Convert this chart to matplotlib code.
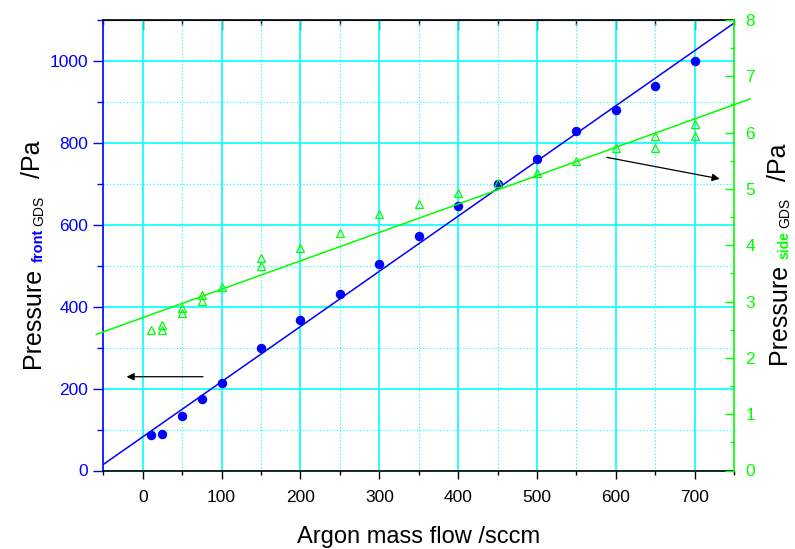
import numpy as np
import matplotlib
matplotlib.use('Agg')
import matplotlib.pyplot as plt
from matplotlib.ticker import MultipleLocator

plt.rcParams['font.family'] = ['Liberation Sans', 'DejaVu Sans']

# 氩气流量 sccm
flow = [10, 25, 50, 75, 100, 150, 200, 250, 300, 350, 400, 450, 500, 550, 600, 650, 700]
# 正面 GDS 压力 Pa
p_front = [86, 90, 132, 174, 213, 298, 367, 432, 503, 572, 645, 699, 760, 829, 880, 939, 1000]
# 侧面 GDS 压力 Pa (有重复测量)
flow_side = [10, 25, 25, 50, 50, 75, 75, 100, 150, 150, 200, 250, 300, 350, 400,
             450, 500, 550, 600, 650, 650, 700, 700]
p_side = [2.49, 2.58, 2.49, 2.89, 2.79, 3.12, 3.01, 3.25, 3.78, 3.63, 3.95, 4.22, 4.56,
          4.73, 4.92, 5.10, 5.29, 5.50, 5.72, 5.94, 5.72, 6.16, 5.94]

BLUE = '#0000ff'
GREEN = '#00ff00'
CYAN = '#00ffff'

W, H = 795, 549
fig = plt.figure(figsize=(W / 100, H / 100), dpi=100)
ax = fig.add_axes([103.3 / W, (H - 470.5) / H, (734.2 - 103.3) / W, (470.5 - 20) / H])
ax2 = ax.twinx()

ax.set_xlim(-50, 750)
ax.set_ylim(0, 1100)
ax2.set_ylim(0, 8)

ax.xaxis.set_major_locator(MultipleLocator(100))
ax.xaxis.set_minor_locator(MultipleLocator(50))
ax.yaxis.set_major_locator(MultipleLocator(200))
ax.yaxis.set_minor_locator(MultipleLocator(100))
ax2.yaxis.set_major_locator(MultipleLocator(1))
ax2.yaxis.set_minor_locator(MultipleLocator(0.5))

# 网格
ax.set_axisbelow(True)
ax.grid(which='major', color=CYAN, lw=1.2, ls='-')
ax.grid(which='minor', color=CYAN, lw=0.8, ls=(0, (1, 2)))

# 刻度
ax.tick_params(axis='x', which='major', direction='out', length=6, width=1, labelsize=12.5, pad=8)
ax.tick_params(axis='x', which='minor', direction='out', length=3, width=1)
ax.tick_params(axis='y', which='major', direction='out', length=7, width=1, color=BLUE,
               labelcolor=BLUE, labelsize=12.5, pad=4)
ax.tick_params(axis='y', which='minor', direction='out', length=4.5, width=1, color=BLUE)
ax2.tick_params(axis='y', which='major', direction='in', length=6.5, width=1, color=GREEN,
                labelcolor=GREEN, labelsize=12.5, pad=8)
ax2.tick_params(axis='y', which='minor', direction='in', length=3, width=1, color=GREEN)

top = ax.secondary_xaxis('top')
top.xaxis.set_major_locator(MultipleLocator(100))
top.xaxis.set_minor_locator(MultipleLocator(50))
top.tick_params(which='major', direction='in', length=7, width=1, labeltop=False)
top.tick_params(which='minor', direction='in', length=3.5, width=1)

ax.spines['left'].set_color(BLUE)
ax.spines['right'].set_visible(False)
for s in ['left', 'top', 'bottom']:
    ax2.spines[s].set_visible(False)
ax2.spines['right'].set_color(GREEN)
for sp in list(ax.spines.values()) + list(ax2.spines.values()):
    sp.set_linewidth(1.2)

# 数据点
ax.plot(flow, p_front, 'o', color=BLUE, ms=5.8, zorder=5)
ax2.plot(flow_side, p_side, '^', mfc='none', mec=GREEN, ms=6, mew=0.9, zorder=5)

# 线性拟合
k1, b1 = np.polyfit(flow, p_front, 1)
xf = np.array([-50, 750])
ax.plot(xf, k1 * xf + b1, color=BLUE, lw=1.1, zorder=4)
k2, b2 = np.polyfit(flow_side, p_side, 1)
xs = np.array([-59, 770])
ax2.plot(xs, k2 * xs + b2, color=GREEN, lw=1.1, clip_on=False, zorder=4)

# 箭头指示坐标轴
ax.annotate('', xy=(-24, 229), xytext=(80, 229),
            arrowprops=dict(arrowstyle='-|>', color='black', lw=0.9, mutation_scale=11))
ax2.annotate('', xy=(735, 5.17), xytext=(585, 5.57),
             arrowprops=dict(arrowstyle='-|>', color='black', lw=0.9, mutation_scale=11))

fig.text(419 / W, (H - 543) / H, 'Argon mass flow /sccm', fontsize=17,
         ha='center', va='baseline')


def stacked_label(x, y, parts):
    # 竖排拼接带下标的轴标题, x/y 为像素坐标
    r = fig.canvas.get_renderer()
    for txt, dx, gap, kw in parts:
        y += gap
        t = fig.text((x + dx) / W, y / H, txt, rotation=90, rotation_mode='anchor',
                     ha='left', va='baseline', **kw)
        y += t.get_window_extent(r).height


stacked_label(40, H - 368, [
    ('Pressure', 0, 0, dict(fontsize=18)),
    ('front', 3, 6, dict(fontsize=10.5, fontweight='bold', color=BLUE)),
    ('GDS', 3, 3, dict(fontsize=10)),
    ('/Pa', 0, 18, dict(fontsize=18)),
])
stacked_label(786, H - 364, [
    ('Pressure', 0, 0, dict(fontsize=18)),
    ('side', 3, 5, dict(fontsize=10, fontweight='bold', color=GREEN)),
    ('GDS', 3, 3, dict(fontsize=10)),
    ('/Pa', 0, 17, dict(fontsize=18)),
])

fig.savefig('out.png', dpi=100)
